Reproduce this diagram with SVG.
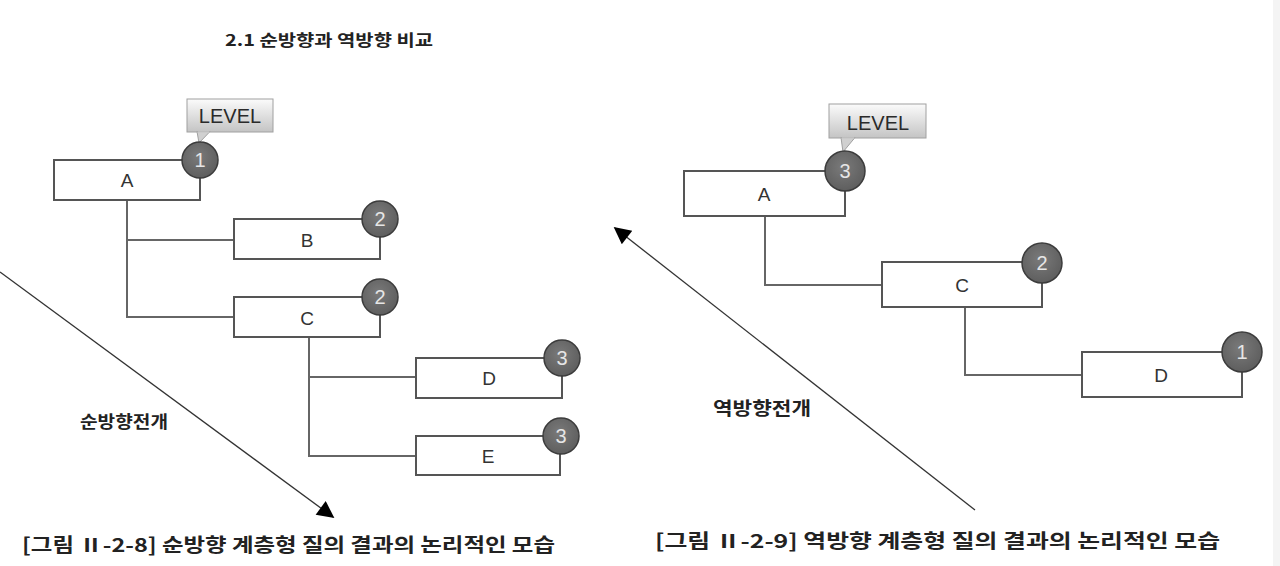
<svg xmlns="http://www.w3.org/2000/svg" width="1280" height="566" viewBox="0 0 1280 566">
<defs>
<linearGradient id="callFill" x1="0" y1="0" x2="0" y2="1">
<stop offset="0" stop-color="#fbfbfb"/>
<stop offset="1" stop-color="#c4c4c4"/>
</linearGradient>
<radialGradient id="ballFill" cx="0.45" cy="0.4" r="0.6">
<stop offset="0" stop-color="#7a7a7a"/>
<stop offset="1" stop-color="#5e5e5e"/>
</radialGradient>
<marker id="arrow" viewBox="0 0 10 10" refX="9" refY="5" markerWidth="20" markerHeight="17" markerUnits="userSpaceOnUse" orient="auto">
<path d="M0,0 L10,5 L0,10 Z" fill="#000"/>
</marker>
</defs>
<style>
.box{fill:#fff;stroke:#555;stroke-width:2}
.ball{fill:url(#ballFill);stroke:#3c3c3c;stroke-width:1.5}
.num{font-family:"Liberation Sans",Arial,sans-serif;font-size:20px;fill:#e6e6e6;text-anchor:middle}
.lbl{font-family:"Liberation Sans",Arial,sans-serif;font-size:19px;fill:#333;text-anchor:middle}
.call{fill:url(#callFill);stroke:#a0a0a0;stroke-width:1}
.lvl{font-family:"Liberation Sans",Arial,sans-serif;font-size:20px;fill:#2a2a2a;text-anchor:middle}
.conn{fill:none;stroke:#666;stroke-width:2}
.diag{fill:none;stroke:#333;stroke-width:1.3}
.kr{font-family:"Noto Sans CJK KR","Noto Sans",sans-serif;fill:#222}
</style>
<rect x="1273" y="0" width="7" height="566" fill="#f4f4f4"/>
<text class="kr" x="225" y="46" font-size="16" font-weight="bold" fill="#000" textLength="208" lengthAdjust="spacingAndGlyphs">2.1 순방향과 역방향 비교</text>

<g id="connectors">
<path class="conn" d="M127,200 V317 H234 M127,240 H234"/>
<path class="conn" d="M309,337 V456 H416 M309,377 H416"/>
<path class="conn" d="M765,216 V285 H882"/>
<path class="conn" d="M965,307 V375 H1082"/>
<line class="diag" x1="0" y1="272" x2="333" y2="517" marker-end="url(#arrow)"/>
<line class="diag" x1="975" y1="510" x2="615" y2="228" marker-end="url(#arrow)"/>
</g>

<g id="callout-left">
<rect class="call" x="187" y="99" width="86" height="33"/>
<polygon points="197,131.5 210,131.5 199,143" fill="#d0d0d0" stroke="#a0a0a0" stroke-width="1"/>
<line x1="197.6" y1="132" x2="209.4" y2="132" stroke="#c9c9c9" stroke-width="1.5"/>
<text class="lvl" x="230" y="123">LEVEL</text>
</g>
<g id="callout-right">
<rect class="call" x="829" y="104" width="97" height="34"/>
<polygon points="841,137.5 855,137.5 843,152" fill="#d0d0d0" stroke="#a0a0a0" stroke-width="1"/>
<line x1="841.6" y1="138" x2="854.4" y2="138" stroke="#c9c9c9" stroke-width="1.5"/>
<text class="lvl" x="878" y="130">LEVEL</text>
</g>

<g id="node-left-A">
<rect class="box" x="54" y="160" width="146" height="40"/>
<text class="lbl" x="127" y="187">A</text>
<circle class="ball" cx="200" cy="160" r="18"/>
<text class="num" x="200" y="167">1</text>
</g>
<g id="node-left-B">
<rect class="box" x="234" y="219" width="146" height="40"/>
<text class="lbl" x="307" y="247">B</text>
<circle class="ball" cx="380" cy="219" r="18"/>
<text class="num" x="380" y="226">2</text>
</g>
<g id="node-left-C">
<rect class="box" x="234" y="297" width="146" height="40"/>
<text class="lbl" x="307" y="325">C</text>
<circle class="ball" cx="380" cy="297" r="18"/>
<text class="num" x="380" y="304">2</text>
</g>
<g id="node-left-D">
<rect class="box" x="416" y="358" width="146" height="40"/>
<text class="lbl" x="489" y="385">D</text>
<circle class="ball" cx="562" cy="358" r="18"/>
<text class="num" x="562" y="365">3</text>
</g>
<g id="node-left-E">
<rect class="box" x="416" y="436" width="144" height="39"/>
<text class="lbl" x="488" y="463">E</text>
<circle class="ball" cx="561" cy="436" r="18"/>
<text class="num" x="561" y="443">3</text>
</g>

<g id="node-right-A">
<rect class="box" x="684" y="171" width="161" height="45"/>
<text class="lbl" x="764" y="201">A</text>
<circle class="ball" cx="845" cy="171" r="20"/>
<text class="num" x="845" y="178">3</text>
</g>
<g id="node-right-C">
<rect class="box" x="882" y="262" width="160" height="45"/>
<text class="lbl" x="962" y="292">C</text>
<circle class="ball" cx="1042" cy="263" r="20"/>
<text class="num" x="1042" y="270">2</text>
</g>
<g id="node-right-D">
<rect class="box" x="1082" y="352" width="160" height="45"/>
<text class="lbl" x="1161" y="382">D</text>
<circle class="ball" cx="1242" cy="352" r="20"/>
<text class="num" x="1242" y="359">1</text>
</g>

<text class="kr" x="80" y="428" font-size="17" font-weight="bold" textLength="88" lengthAdjust="spacingAndGlyphs">순방향전개</text>
<text class="kr" x="713" y="415" font-size="18" font-weight="bold" textLength="98" lengthAdjust="spacingAndGlyphs">역방향전개</text>

<text class="kr" x="22" y="552" font-size="19" font-weight="bold" fill="#111" textLength="533" lengthAdjust="spacingAndGlyphs">[그림 Ⅱ-2-8] 순방향 계층형 질의 결과의 논리적인 모습</text>
<text class="kr" x="655" y="548" font-size="19" font-weight="bold" fill="#111" textLength="565" lengthAdjust="spacingAndGlyphs">[그림 Ⅱ-2-9] 역방향 계층형 질의 결과의 논리적인 모습</text>
</svg>
